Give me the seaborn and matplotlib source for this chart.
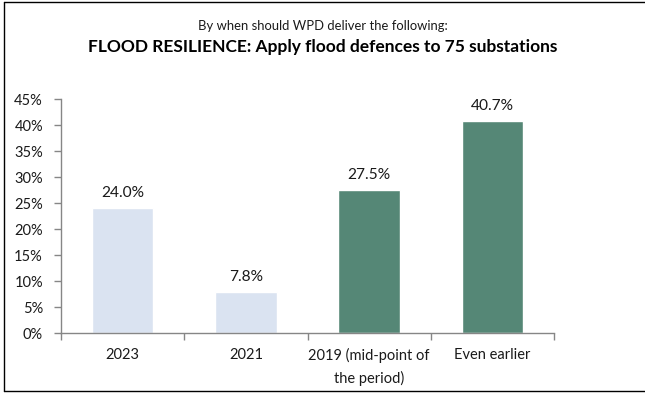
import matplotlib
matplotlib.use("Agg")
import matplotlib.pyplot as plt
from matplotlib.lines import Line2D
from matplotlib.ticker import FixedLocator, PercentFormatter
import seaborn as sns
import pandas as pd

categories = ["2023", "2021", "2019 (mid-point of\nthe period)", "Even earlier"]
shares = [24.0, 7.8, 27.5, 40.7]
bar_colors = ["#DAE3F1", "#DAE3F1", "#558776", "#558776"]
y_ticks = [0, 5, 10, 15, 20, 25, 30, 35, 40, 45]

sns.set_theme(style="white")
plt.rcParams["font.family"] = ["Lato", "DejaVu Sans"]

df = pd.DataFrame({"category": categories, "share": shares})

fig = plt.figure(figsize=(6.45, 3.94), dpi=100)
ax = fig.add_axes([0.0946, 0.1548, 0.7644, 0.5939])

sns.barplot(data=df, x="category", y="share", hue="category",
            palette=bar_colors, legend=False, width=0.5, saturation=1,
            ax=ax)

ax.set_ylim(0, 45)
ax.set_xlim(-0.5, 3.5)
ax.yaxis.set_major_locator(FixedLocator(y_ticks))
ax.yaxis.set_major_formatter(PercentFormatter(decimals=0))
ax.set_xlabel("")
ax.set_ylabel("")

axis_grey = "#868686"
for side in ["top", "right"]:
    ax.spines[side].set_visible(False)
for side in ["left", "bottom"]:
    ax.spines[side].set_color(axis_grey)
    ax.spines[side].set_linewidth(1.0)

ax.tick_params(axis="y", direction="out", length=5, width=1, color=axis_grey,
               labelsize=10.5, labelcolor="#1a1a1a", pad=8, left=True)
ax.tick_params(axis="x", which="major", length=0, labelsize=10.5,
               labelcolor="#1a1a1a", pad=11)
for lbl in ax.get_xticklabels():
    lbl.set_linespacing(1.65)
ax.xaxis.set_minor_locator(FixedLocator([-0.5, 0.5, 1.5, 2.5, 3.5]))
ax.tick_params(axis="x", which="minor", direction="out", length=5, width=1,
               color=axis_grey, bottom=True)

for i, v in enumerate(shares):
    ax.text(i, v + 1.6, f"{v:.1f}%", ha="center", va="bottom",
            fontsize=11.2, color="#1a1a1a")

fig.text(0.5, 0.934, "By when should WPD deliver the following:",
         ha="center", va="center", fontsize=9.4, color="#1a1a1a")
fig.text(0.5, 0.88, "FLOOD RESILIENCE: Apply flood defences to 75 substations",
         ha="center", va="center", fontsize=12.5, fontweight="bold",
         color="#000000")

# frame on the left, top and bottom edges of the canvas
x0, y0, y1 = 0.006, 0.008, 0.995
frame = [([x0, x0], [y0, y1]), ([x0, 1.0], [y1, y1]), ([x0, 1.0], [y0, y0])]
for xs, ys in frame:
    fig.add_artist(Line2D(xs, ys, transform=fig.transFigure,
                          color="#000000", linewidth=1.0))

fig.savefig("out.png", dpi=100)
